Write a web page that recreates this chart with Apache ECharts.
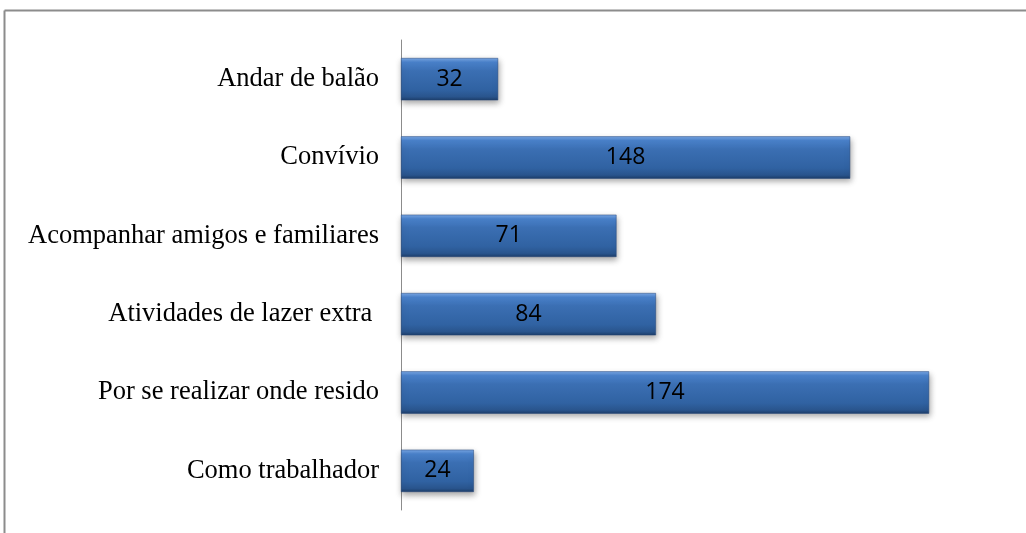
<!DOCTYPE html>
<html>
<head>
<meta charset="utf-8">
<script src="https://cdn.jsdelivr.net/npm/echarts@6/dist/echarts.min.js"></script>
<style>
html, body { margin: 0; padding: 0; background: #fff; }
#main { width: 1026px; height: 533px; }
</style>
</head>
<body>
<div id="main"></div>
<script>
// categories from top to bottom as in the picture
var categories = ['Andar de balão', 'Convívio', 'Acompanhar amigos e familiares', 'Atividades de lazer extra ', 'Por se realizar onde resido', 'Como trabalhador'];
var values = [32, 148, 71, 84, 174, 24];

var myChart = echarts.init(document.getElementById('main'));

var barColor = new echarts.graphic.LinearGradient(0, 0, 0, 1, [
	{ offset: 0, color: '#7aa8e6' },
	{ offset: 0.1, color: '#4a82cc' },
	{ offset: 0.3, color: '#3b6fb3' },
	{ offset: 0.75, color: '#3062a2' },
	{ offset: 0.92, color: '#29548c' },
	{ offset: 1, color: '#1d3d68' }
]);

var option = {
	backgroundColor: '#ffffff',
	animation: false,
	graphic: [{
		type: 'line',
		shape: { x1: 4.5, y1: 10.5, x2: 1026, y2: 10.5 },
		style: { stroke: '#8c8c8c', lineWidth: 2 }
	}, {
		type: 'line',
		shape: { x1: 4.5, y1: 10.5, x2: 4.5, y2: 533 },
		style: { stroke: '#8c8c8c', lineWidth: 2 }
	}],
	grid: {
		left: 401,
		right: 18,
		top: 40,
		bottom: 23
	},
	xAxis: {
		type: 'value',
		min: 0,
		max: 200,
		show: false
	},
	yAxis: {
		type: 'category',
		inverse: true,
		data: categories,
		axisLine: {
			lineStyle: { color: '#8c8c8c', width: 1 }
		},
		axisTick: { show: false },
		axisLabel: {
			color: '#000',
			fontFamily: 'Liberation Serif',
			fontSize: 26.5,
			margin: 22
		}
	},
	series: [{
		type: 'bar',
		data: values,
		barWidth: '54%',
		itemStyle: {
			color: barColor,
			borderColor: '#24477a',
			borderWidth: 0.5,
			shadowColor: 'rgba(0,0,0,0.35)',
			shadowBlur: 6,
			shadowOffsetX: 1,
			shadowOffsetY: 3
		},
		label: {
			show: true,
			position: 'inside',
			color: '#000',
			fontFamily: 'Open Sans',
			fontSize: 23
		}
	}]
};
myChart.setOption(option);
</script>
</body>
</html>
